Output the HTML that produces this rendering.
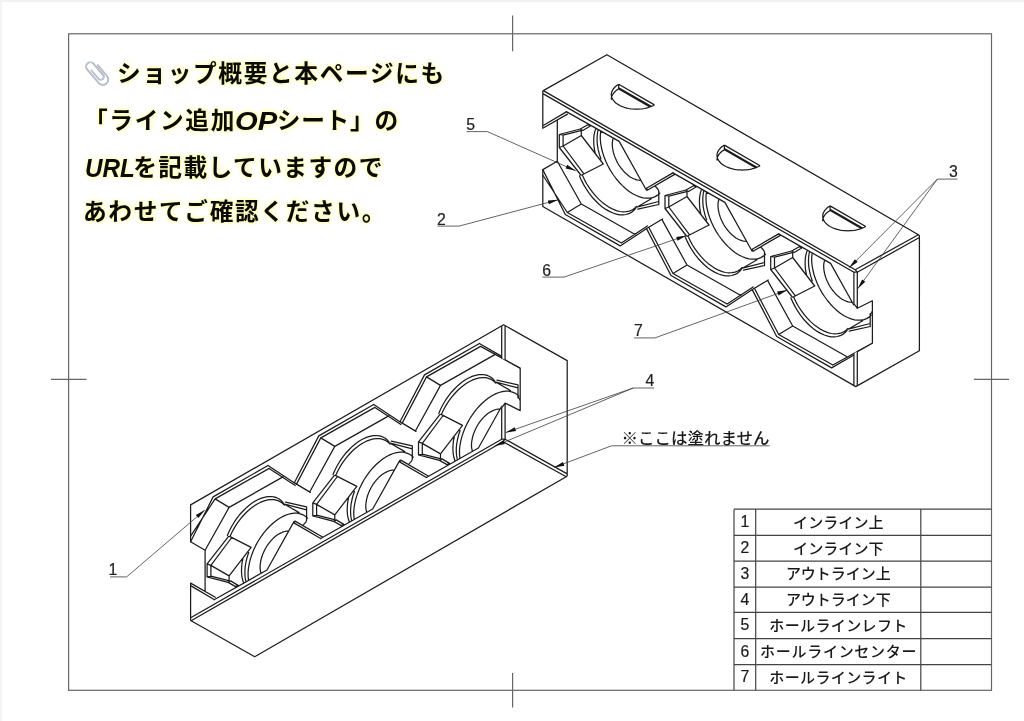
<!DOCTYPE html>
<html lang="ja">
<head>
<meta charset="utf-8">
<title>ライン追加OPシート</title>
<style>
html,body{margin:0;padding:0;background:#fff;}
body{width:1024px;height:721px;position:relative;overflow:hidden;font-family:"Liberation Sans","Noto Sans CJK JP",sans-serif;}
#edge-top{position:absolute;left:0;top:0;width:1024px;height:2px;background:#f1f1f1;}
#edge-left{position:absolute;left:0;top:0;width:2px;height:721px;background:#f4f4f4;}
#art{position:absolute;left:0;top:0;width:1024px;height:721px;will-change:transform;}
.note{will-change:transform;}
.note{position:absolute;left:85.3px;white-space:nowrap;font-family:"Liberation Sans","Noto Sans CJK JP",sans-serif;font-weight:700;font-size:23.7px;letter-spacing:1.65px;line-height:30px;color:#0a0a0a;text-shadow:0 0 2px #ffffa0,0 0 3px #ffffa8,0 0 4px #ffffb8,0 0 6px #ffffd0;}
.note i{font-style:italic;font-weight:700;font-size:25.4px;letter-spacing:0;display:inline-block;transform:scaleX(0.86);transform-origin:0 50%;line-height:30px;vertical-align:top;}
</style>
</head>
<body>
<div id="edge-top"></div><div id="edge-left"></div>
<svg id="art" width="1024" height="721" viewBox="0 0 1024 721">
<g id="frame" fill="none" stroke="#666" stroke-width="1.2">
<rect x="68.6" y="33.8" width="922.9" height="656.5"/>
<path d="M512.6 15.6V51.3M512.6 673V707.6M51 379.4H86.6M973.8 379.4H1009"/>
</g>
<g id="table" fill="none" stroke="#444" stroke-width="1.2">
<path d="M734 509.2V690.3M755.7 509.2V690.3M920.8 509.2V690.3M734 509.2H991.5M734 535.3H991.5M734 561.1H991.5M734 587.2H991.5M734 612.4H991.5M734 638.6H991.5M734 664.6H991.5"/>
</g>
<g id="paperclip" transform="translate(97.4 73.1) rotate(-40.5)" fill="none" stroke-linecap="round">
<path d="M5.4 -5.9V8.4A5.4 5.4 0 0 1 -5.4 8.4V-9.55A4.25 4.25 0 0 1 3.1 -9.55V5A2.95 2.95 0 0 1 -2.8 5V-6.1" stroke="#9eaab6" stroke-width="1.7"/>
<path d="M5.4 -5.9V8.4A5.4 5.4 0 0 1 -5.4 8.4V-9.55A4.25 4.25 0 0 1 3.1 -9.55V5A2.95 2.95 0 0 1 -2.8 5V-6.1" stroke="#d3dae1" stroke-width="0.6"/>
</g>
<defs><clipPath id="c3"><path d="M500 0H853.9V305.2L857.3 308.3L872.4 300.8V343.3L857.3 351.6L853.9 353.4V721H500Z"/></clipPath>
<g id="blk" fill="none" stroke="#1c1c1c" stroke-width="1.25" stroke-linejoin="round" stroke-linecap="round">
<path d="M855.2 269.7 L543.3 90.6 L606.9 54.7 L918.4 234.7 L855.2 269.7 M543.3 93.9 L853.9 272.2 L857.3 272.2 M919.4 237.5 L857.3 272.2 M855.2 269.7 L857.3 272.2 M918.4 234.7 L919.4 235.6 L919.4 350.8 L855.8 386.6 M853.9 272.2 L853.9 303.5 L857.3 308.3 M857.3 272.2 L857.3 308.3 L872.4 300.8 L872.4 343.3 L857.3 351.6 L857.3 385.8 M853.9 353.4 L853.9 385.5 M542.8 91.1 L542.8 128.3 L567.5 114.1 M542.8 125.8 L566.3 111.9 M557.3 119.9 L557.3 161.2 M542.8 169.6 L542.8 206.5 L855.8 386.6"/>
<path d="M559.3 134.5 L563.1 135 L563.1 146 L559.3 147.5Z M559.3 134.5 L580.3 129 M563.1 135.2 L580.8 130.7 M580.3 129 L587.8 124.8 L590.3 126 L582.8 130.5Z M581.3 130.7 L581.3 135.5 M563.1 146 L581.3 135.5 L603.3 164 M559.3 147.5 L580.8 175 M563.1 146 L583.9 173.9 M581.8 175 L603.3 164 M579.5 175.9 L581.5 180.4 L583.8 184.9 L586.4 189.2 L589.2 193.3 L592.2 197.2 L595.5 200.7 L598.8 204 L602.3 206.9 L605.8 209.4 L609.4 211.4 L612.9 213 L616.4 214.1 L619.7 214.8 L623 214.9 L626 214.5 L628.8 213.7 L631.4 212.4 L633.7 210.6 L635.7 208.3 M582.3 175.1 L584.4 179.6 L586.8 184 L589.5 188.2 L592.5 192.2 L595.6 195.9 L598.9 199.4 L602.3 202.4 L605.9 205.1 L609.4 207.4 L612.9 209.2 L616.5 210.6 L619.9 211.5 L623.2 211.8 L626.3 211.7 L629.3 211.1 L632 210 L634.4 208.4 L636.5 206.4 M600.7 131.4 L600.3 135.3 L600.3 139.3 L600.7 143.6 L601.5 148 L602.6 152.5 L604.1 157 L605.9 161.6 L608 166 L610.4 170.4 L613.1 174.5 L616 178.5 L619.1 182.2 L622.4 185.6 L625.8 188.7 L629.2 191.4 L632.7 193.7 L636.3 195.5 L639.7 196.9 L643.1 197.8 L646.4 198.2 L649.5 198.2 L652.5 197.6 L655.2 196.6 L657.6 195.1 L659.8 193.2 M658.7 192.6 L658.8 191.3 L658.2 189.6 L656.9 188 L655.3 186.3 M598.1 129.9 L597.4 133.5 L597.1 137.3 L597.1 141.3 L597.5 145.6 L598.3 149.9 L599.4 154.4 L600.9 158.9 M595.8 128.6 L594.7 131.9 L594 135.6 L593.7 139.6 L593.8 143.8 L594.2 148.2 L595.1 152.8 M613.1 138.6 L612.6 140.6 L612.3 142.8 L612.3 145.1 L612.5 147.6 L612.9 150.1 L613.5 152.7 L614.3 155.4 L615.3 158 L616.5 160.6 L617.8 163.2 L619.3 165.7 L621 168 L622.8 170.2 L624.6 172.3 L626.6 174.1 L628.6 175.8 L630.6 177.2 L632.7 178.3 L634.7 179.2 L636.7 179.9 L638.7 180.2 L640.5 180.3 M619.2 141.4 L646.3 190 M672.9 172.9 L646.5 188.3 L647.3 190.3 L674.7 174.4 M636.8 207.2 L651.3 198.8 M636.8 207.2 L658.8 201.5 M637.8 209.2 L658.8 204.5 M658.8 191.5 L658.8 204.5 M566.3 111.6 L619.2 141.4 M542.8 169.6 L565.3 214.5 M543 175.5 L567.3 212.5 M557.3 161.2 L581.3 204 M567.3 212.5 L581.3 204 M565.3 214.5 L620.2 245.9 M567.3 212.5 L621.4 243 M581.3 204 L635.2 234.5 M620.2 245.9 L646.7 228.5 L662.5 219 M621.4 243 L647.4 225.9 M542.8 169.6 L557.3 161.2"/>
<path d="M665 195.5 L668.8 196 L668.8 207 L665 208.5Z M665 195.5 L686 190 M668.8 196.2 L686.5 191.7 M686 190 L693.5 185.8 L696 187 L688.5 191.5Z M687 191.7 L687 196.5 M668.8 207 L687 196.5 L709 225 M665 208.5 L686.5 236 M668.8 207 L689.6 234.9 M687.5 236 L709 225 M685.2 236.9 L687.2 241.4 L689.5 245.9 L692.1 250.2 L694.9 254.3 L697.9 258.2 L701.2 261.7 L704.5 265 L708 267.9 L711.5 270.4 L715.1 272.4 L718.6 274 L722.1 275.1 L725.4 275.8 L728.7 275.9 L731.7 275.5 L734.5 274.7 L737.1 273.4 L739.4 271.6 L741.4 269.3 M688 236.1 L690.1 240.6 L692.5 245 L695.2 249.2 L698.2 253.2 L701.3 256.9 L704.6 260.4 L708 263.4 L711.6 266.1 L715.1 268.4 L718.6 270.2 L722.2 271.6 L725.6 272.5 L728.9 272.8 L732 272.7 L735 272.1 L737.7 271 L740.1 269.4 L742.2 267.4 M706.4 192.4 L706 196.3 L706 200.3 L706.4 204.6 L707.2 209 L708.3 213.5 L709.8 218 L711.6 222.6 L713.7 227 L716.1 231.4 L718.8 235.5 L721.7 239.5 L724.8 243.2 L728.1 246.6 L731.5 249.7 L734.9 252.4 L738.4 254.7 L742 256.5 L745.4 257.9 L748.8 258.8 L752.1 259.2 L755.2 259.2 L758.2 258.6 L760.9 257.6 L763.3 256.1 L765.5 254.2 M764.4 253.6 L764.5 252.3 L763.9 250.6 L762.6 249 L761 247.3 M703.8 190.9 L703.1 194.5 L702.8 198.3 L702.8 202.3 L703.2 206.6 L704 210.9 L705.1 215.4 L706.6 219.9 M701.5 189.6 L700.4 192.9 L699.7 196.6 L699.4 200.6 L699.5 204.8 L699.9 209.2 L700.8 213.8 M718.8 199.6 L718.3 201.6 L718 203.8 L718 206.1 L718.2 208.6 L718.6 211.1 L719.2 213.7 L720 216.4 L721 219 L722.2 221.6 L723.5 224.2 L725 226.7 L726.7 229 L728.5 231.2 L730.3 233.3 L732.3 235.1 L734.3 236.8 L736.3 238.2 L738.4 239.3 L740.4 240.2 L742.4 240.9 L744.4 241.2 L746.2 241.3 M724.9 202.4 L752 251 M778.6 233.9 L752.2 249.3 L753 251.3 L780.4 235.4 M742.5 268.2 L757 259.8 M742.5 268.2 L764.5 262.5 M743.5 270.2 L764.5 265.5 M764.5 252.5 L764.5 265.5 M672.9 172.9 L724.9 202.4 M646.5 228.6 L671 275.5 M648.7 227.3 L673 273.5 M662 219.6 L687 265 M673 273.5 L687 265 M671 275.5 L725.9 306.9 M673 273.5 L727.1 304 M687 265 L740.9 295.5 M725.9 306.9 L752.4 289.5 L768.2 280 M727.1 304 L753.1 286.9"/>
<path clip-path="url(#c3)" d="M770.7 256.5 L774.5 257 L774.5 268 L770.7 269.5Z M770.7 256.5 L791.7 251 M774.5 257.2 L792.2 252.7 M791.7 251 L799.2 246.8 L801.7 248 L794.2 252.5Z M792.7 252.7 L792.7 257.5 M774.5 268 L792.7 257.5 L814.7 286 M770.7 269.5 L792.2 297 M774.5 268 L795.3 295.9 M793.2 297 L814.7 286 M790.9 297.9 L792.9 302.4 L795.2 306.9 L797.8 311.2 L800.6 315.3 L803.6 319.2 L806.9 322.7 L810.2 326 L813.7 328.9 L817.2 331.4 L820.8 333.4 L824.3 335 L827.8 336.1 L831.1 336.8 L834.4 336.9 L837.4 336.5 L840.2 335.7 L842.8 334.4 L845.1 332.6 L847.1 330.3 M793.7 297.1 L795.8 301.6 L798.2 306 L800.9 310.2 L803.9 314.2 L807 317.9 L810.3 321.4 L813.7 324.4 L817.3 327.1 L820.8 329.4 L824.3 331.2 L827.9 332.6 L831.3 333.5 L834.6 333.8 L837.7 333.7 L840.7 333.1 L843.4 332 L845.8 330.4 L847.9 328.4 M812.1 253.4 L811.7 257.3 L811.7 261.3 L812.1 265.6 L812.9 270 L814 274.5 L815.5 279 L817.3 283.6 L819.4 288 L821.8 292.4 L824.5 296.5 L827.4 300.5 L830.5 304.2 L833.8 307.6 L837.2 310.7 L840.6 313.4 L844.1 315.7 L847.7 317.5 L851.1 318.9 L854.5 319.8 L857.8 320.2 L860.9 320.2 L863.9 319.6 L866.6 318.6 L869 317.1 L871.2 315.2 M870.1 314.6 L871.5 312.8 L872.4 311.2 M809.5 251.9 L808.8 255.5 L808.5 259.3 L808.5 263.3 L808.9 267.6 L809.7 271.9 L810.8 276.4 L812.3 280.9 M807.2 250.6 L806.1 253.9 L805.4 257.6 L805.1 261.6 L805.2 265.8 L805.6 270.2 L806.5 274.8 M824.5 260.6 L824 262.6 L823.7 264.8 L823.7 267.1 L823.9 269.6 L824.3 272.1 L824.9 274.7 L825.7 277.4 L826.7 280 L827.9 282.6 L829.2 285.2 L830.7 287.7 L832.4 290 L834.2 292.2 L836 294.3 L838 296.1 L840 297.8 L842 299.2 L844.1 300.3 L846.1 301.2 L848.1 301.9 L850.1 302.2 L851.9 302.3 M830.6 263.4 L853.9 305.2 M848.2 329.2 L862.7 320.8 M848.2 329.2 L870.2 323.5 M849.2 331.2 L870.2 326.5 M870.2 313.5 L870.2 326.5 M778.6 233.9 L830.6 263.4 M752.2 289.6 L776.7 336.5 M754.4 288.3 L778.7 334.5 M767.7 280.6 L792.7 326 M778.7 334.5 L792.7 326 M776.7 336.5 L831.6 367.9 M778.7 334.5 L832.8 365 M792.7 326 L846.6 356.5 M831.6 367.9 L857.4 353 M832.8 365 L872.4 343.3"/>
</g></defs>
<use href="#blk"/>
<path id="holes" fill="none" stroke="#1c1c1c" stroke-width="1.25" d="M654.4 104.9 L618.7 84.3 M618.7 84.3 L617.4 85.1 L616.1 86 L615 87 L614.1 88 L613.2 89 L612.6 90.1 L612 91.2 L611.6 92.3 L611.4 93.5 L611.3 94.6 L611.4 95.7 L611.6 96.9 L612 98 L612.6 99.1 L613.2 100.2 L614.1 101.2 L615 102.2 L616.1 103.2 L617.4 104.1 L618.7 104.9 L620.2 105.7 L621.7 106.4 L623.4 107 L625.1 107.6 L626.9 108.1 L628.8 108.5 L630.7 108.8 L632.6 109 L634.6 109.1 L636.5 109.2 L638.5 109.1 L640.5 109 L642.4 108.8 L644.3 108.5 L646.2 108.1 L648 107.6 L649.7 107 L651.4 106.4 L652.9 105.7 L654.4 104.9 M618.7 84.3 L618.7 88.9 M618.7 88.9 L617.3 89.8 L616 90.7 L614.9 91.7 L613.9 92.8 L613.1 93.9 L612.4 95 L611.9 96.1 L611.5 97.3 L611.3 98.5 L611.3 99.7 M618.7 87.7 L651.2 106.4 M618.7 88.9 L649.9 106.9 M760.1 165.7 L724.4 145.1 M724.4 145.1 L723.1 145.9 L721.8 146.8 L720.7 147.8 L719.8 148.8 L718.9 149.8 L718.3 150.9 L717.7 152 L717.3 153.1 L717.1 154.3 L717 155.4 L717.1 156.5 L717.3 157.7 L717.7 158.8 L718.3 159.9 L718.9 161 L719.8 162 L720.7 163 L721.8 164 L723.1 164.9 L724.4 165.7 L725.9 166.5 L727.4 167.2 L729.1 167.8 L730.8 168.4 L732.6 168.9 L734.5 169.3 L736.4 169.6 L738.3 169.8 L740.3 169.9 L742.2 170 L744.2 169.9 L746.2 169.8 L748.1 169.6 L750 169.3 L751.9 168.9 L753.7 168.4 L755.4 167.8 L757.1 167.2 L758.6 166.5 L760.1 165.7 M724.4 145.1 L724.4 149.7 M724.4 149.7 L723 150.6 L721.7 151.5 L720.6 152.5 L719.6 153.6 L718.8 154.7 L718.1 155.8 L717.6 156.9 L717.2 158.1 L717 159.3 L717 160.5 M724.4 148.5 L756.9 167.2 M724.4 149.7 L755.6 167.7 M865.8 226.5 L830.1 205.9 M830.1 205.9 L828.8 206.7 L827.5 207.6 L826.4 208.6 L825.5 209.6 L824.6 210.6 L824 211.7 L823.4 212.8 L823 213.9 L822.8 215.1 L822.7 216.2 L822.8 217.3 L823 218.5 L823.4 219.6 L824 220.7 L824.6 221.8 L825.5 222.8 L826.4 223.8 L827.5 224.8 L828.8 225.7 L830.1 226.5 L831.6 227.3 L833.1 228 L834.8 228.6 L836.5 229.2 L838.3 229.7 L840.2 230.1 L842.1 230.4 L844 230.6 L846 230.7 L847.9 230.8 L849.9 230.7 L851.9 230.6 L853.8 230.4 L855.7 230.1 L857.6 229.7 L859.4 229.2 L861.1 228.6 L862.8 228 L864.3 227.3 L865.8 226.5 M830.1 205.9 L830.1 210.5 M830.1 210.5 L828.7 211.4 L827.4 212.3 L826.3 213.3 L825.3 214.4 L824.5 215.5 L823.8 216.6 L823.3 217.7 L822.9 218.9 L822.7 220.1 L822.7 221.3 M830.1 209.3 L862.6 228 M830.1 210.5 L861.3 228.5"/>
<use href="#blk" transform="translate(-352.2 711.4) scale(1 -1)"/>
<g id="leaders" fill="none" stroke="#3c3c3c" stroke-width="0.8"><path d="M466.6 131.6L487.4 131.6 M487.4 131.6L575.7 170.8 M437.5 226.1L459.1 226.1 M459.1 226.1L558.2 199.8 M542.4 277.1L564 277.1 M564 277.1L686.5 235.5 M634.1 337.9L655 337.9 M655 337.9L787.4 290 M957.4 179.1L937.4 179.1 M937.4 179.1L849.1 267.8 M937.4 179.1L857.7 288.8 M110 576.9L126.6 576.9 M126.6 576.9L204.9 510 M654 388L633.2 388 M633.2 388L505.7 432.6 M633.2 388L494.7 446.1 M769.5 445.8L611.5 445.8 M611.5 445.8L554.1 467.4"/></g>
<path id="arrowheads" fill="#111" stroke="none" d="M575.7 170.8L567.2 164.8L565.6 168.5Z M558.2 199.8L547.8 200.5L548.9 204.3Z M686.5 235.5L676.2 236.9L677.5 240.7Z M787.4 290L777.1 291.6L778.5 295.4Z M849.1 267.8L857.7 262L854.9 259.2Z M857.7 288.8L865.3 281.7L862.1 279.4Z M204.9 510L195.8 515.1L198.4 518.1Z M505.7 432.6L516 431.1L514.7 427.3Z M494.7 446.1L504.9 444L503.3 440.3Z M554.1 467.4L564.4 465.7L562.9 461.9Z"/>
<g id="labels" font-family="Liberation Sans, sans-serif" font-size="15.8" fill="#222" stroke="#222" stroke-width="0.2">
<text x="466.2" y="129.7">5</text>
<text x="437.1" y="224.6">2</text>
<text x="542.2" y="275.8">6</text>
<text x="633.9" y="335.9">7</text>
<text x="948.9" y="177.1">3</text>
<text x="108.6" y="574.9">1</text>
<text x="645.4" y="386.3">4</text>
</g>
<text id="note-small" x="621.6" y="443.6" font-family="Liberation Sans, Noto Sans CJK JP, sans-serif" font-size="16" font-weight="500" fill="#1a1a1a" textLength="148" lengthAdjust="spacingAndGlyphs">※ここは塗れません</text>
<g id="table-text" fill="#1a1a1a">
<text x="745" y="527.1" text-anchor="middle" font-family="Liberation Sans, sans-serif" font-size="15.8" stroke="#1a1a1a" stroke-width="0.2">1</text>
<text x="838.3" y="527.5" text-anchor="middle" font-family="Liberation Sans, Noto Sans CJK JP, sans-serif" font-size="15" font-weight="500" textLength="90.4">インライン上</text>
<text x="745" y="553.1" text-anchor="middle" font-family="Liberation Sans, sans-serif" font-size="15.8" stroke="#1a1a1a" stroke-width="0.2">2</text>
<text x="838.3" y="553.5" text-anchor="middle" font-family="Liberation Sans, Noto Sans CJK JP, sans-serif" font-size="15" font-weight="500" textLength="90.4">インライン下</text>
<text x="745" y="579" text-anchor="middle" font-family="Liberation Sans, sans-serif" font-size="15.8" stroke="#1a1a1a" stroke-width="0.2">3</text>
<text x="838.3" y="579.4" text-anchor="middle" font-family="Liberation Sans, Noto Sans CJK JP, sans-serif" font-size="15" font-weight="500" textLength="104.8">アウトライン上</text>
<text x="745" y="604.6" text-anchor="middle" font-family="Liberation Sans, sans-serif" font-size="15.8" stroke="#1a1a1a" stroke-width="0.2">4</text>
<text x="838.3" y="605" text-anchor="middle" font-family="Liberation Sans, Noto Sans CJK JP, sans-serif" font-size="15" font-weight="500" textLength="104.8">アウトライン下</text>
<text x="745" y="630.4" text-anchor="middle" font-family="Liberation Sans, sans-serif" font-size="15.8" stroke="#1a1a1a" stroke-width="0.2">5</text>
<text x="838.3" y="630.8" text-anchor="middle" font-family="Liberation Sans, Noto Sans CJK JP, sans-serif" font-size="15" font-weight="500" textLength="138">ホールラインレフト</text>
<text x="745" y="656.5" text-anchor="middle" font-family="Liberation Sans, sans-serif" font-size="15.8" stroke="#1a1a1a" stroke-width="0.2">6</text>
<text x="838.3" y="656.9" text-anchor="middle" font-family="Liberation Sans, Noto Sans CJK JP, sans-serif" font-size="15" font-weight="500" textLength="156.5">ホールラインセンター</text>
<text x="745" y="682.4" text-anchor="middle" font-family="Liberation Sans, sans-serif" font-size="15.8" stroke="#1a1a1a" stroke-width="0.2">7</text>
<text x="838.3" y="682.8" text-anchor="middle" font-family="Liberation Sans, Noto Sans CJK JP, sans-serif" font-size="15" font-weight="500" textLength="138">ホールラインライト</text>
</g>
</svg>
<div class="note" style="top:58.6px;"><span style="display:inline-block;width:32px;"></span>ショップ概要と本ページにも</div>
<div class="note" style="top:106px;left:83.7px;">「ライン追加<i style="transform:scaleX(1.15);margin-right:5px;margin-left:-1px">OP</i><span style="letter-spacing:0.75px">シート」の</span></div>
<div class="note" style="top:152.5px;"><i style="transform:scaleX(0.955);margin-right:-4px">URL</i><span style="letter-spacing:1.45px">を記載していますので</span></div>
<div class="note" style="top:197.2px;left:83.1px;">あわせてご確認ください。</div>
</body>
</html>
